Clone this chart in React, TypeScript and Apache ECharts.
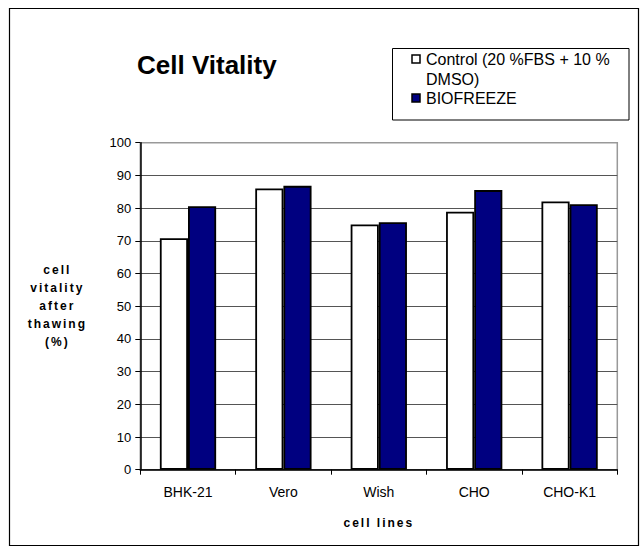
import React, { useEffect, useRef } from "react";
import * as echarts from "echarts";

const categories = ["BHK-21", "Vero", "Wish", "CHO", "CHO-K1"];
const controlValues = [70.8, 86.0, 75.0, 78.9, 82.0];
const biofreezeValues = [80.6, 86.8, 75.7, 85.5, 81.2];
const controlName = "Control (20 %FBS + 10 % DMSO)";
const biofreezeName = "BIOFREEZE";
const titleText = "Cell Vitality";
const yName = "cell\nvitality\nafter\nthawing\n(%)";
const xName = "cell lines";

const FONT = "Liberation Sans";
const NAME_FONT = "Liberation Sans, Arial";

export default function App() {
  const ref = useRef<HTMLDivElement>(null);
  useEffect(() => {
    if (!ref.current) return;
    const chart = echarts.init(ref.current, null, { renderer: "svg" });
    const splitColors: string[] = [];
    for (let i = 0; i <= 10; i++) splitColors.push(i === 10 ? "#999999" : "#555555");
    chart.setOption({
      animation: false,
      backgroundColor: "#ffffff",
      title: {
        text: titleText,
        left: 137,
        top: 52,
        padding: 0,
        textStyle: { fontFamily: FONT, fontSize: 26, fontWeight: "bold", color: "#000" },
      },
      grid: {
        left: 140.3,
        right: 22.7,
        top: 142.7,
        bottom: 82.3,
        show: true,
        borderColor: "#999999",
        borderWidth: 1.5,
        backgroundColor: "#ffffff",
      },
      xAxis: {
        type: "category",
        data: categories,
        name: xName,
        nameLocation: "middle",
        nameGap: 47,
        nameTextStyle: { fontFamily: NAME_FONT, fontSize: 12, fontWeight: "bold", color: "#000" },
        axisLine: { lineStyle: { color: "#000", width: 1.5 } },
        axisTick: { show: true, length: 5, lineStyle: { color: "#000", width: 1 } },
        axisLabel: { fontFamily: FONT, fontSize: 14, color: "#000", margin: 15 },
        splitLine: { show: false },
      },
      yAxis: {
        type: "value",
        min: 0,
        max: 100,
        interval: 10,
        name: yName,
        nameLocation: "middle",
        nameRotate: 0,
        nameGap: 83,
        nameTextStyle: {
          fontFamily: NAME_FONT,
          fontSize: 12,
          fontWeight: "bold",
          color: "#000",
          align: "center",
          verticalAlign: "middle",
          lineHeight: 18,
        },
        axisLine: { show: true, lineStyle: { color: "#000", width: 1.5 } },
        axisTick: { show: true, length: 5, lineStyle: { color: "#000", width: 1 } },
        axisLabel: { fontFamily: FONT, fontSize: 13, color: "#000", margin: 9 },
        splitLine: { show: true, lineStyle: { color: splitColors, width: 1 } },
      },
      series: [
        {
          name: controlName,
          type: "bar",
          data: controlValues,
          barGap: "0%",
          barCategoryGap: "41%",
          itemStyle: { color: "#ffffff", borderColor: "#000", borderWidth: 1.8 },
        },
        {
          name: biofreezeName,
          type: "bar",
          data: biofreezeValues,
          barGap: "0%",
          barCategoryGap: "41%",
          itemStyle: { color: "#000080", borderColor: "#000", borderWidth: 1.8 },
        },
      ],
      graphic: [
        {
          type: "rect",
          shape: { x: 9.5, y: 8.5, width: 629, height: 537 },
          style: { fill: "none", stroke: "#000", lineWidth: 1.2 },
          silent: true,
        },
        {
          type: "rect",
          shape: { x: 392.5, y: 48.5, width: 236.5, height: 71.5 },
          style: { fill: "#fff", stroke: "#000", lineWidth: 1 },
          silent: true,
        },
        {
          type: "rect",
          shape: { x: 412, y: 55, width: 8, height: 8 },
          style: { fill: "#fff", stroke: "#000", lineWidth: 1.5 },
          silent: true,
        },
        {
          type: "text",
          x: 426,
          y: 49,
          style: {
            text: "Control (20 %FBS + 10 %\nDMSO)",
            fontFamily: FONT,
            fontSize: 16,
            lineHeight: 20,
            fill: "#000",
            textAlign: "left",
            textVerticalAlign: "top",
          },
          silent: true,
        },
        {
          type: "rect",
          shape: { x: 412, y: 94, width: 8, height: 8 },
          style: { fill: "#000080", stroke: "#000", lineWidth: 1.5 },
          silent: true,
        },
        {
          type: "text",
          x: 426,
          y: 88,
          style: {
            text: biofreezeName,
            fontFamily: FONT,
            fontSize: 16,
            lineHeight: 20,
            fill: "#000",
            textAlign: "left",
            textVerticalAlign: "top",
          },
          silent: true,
        },
      ],
    });
    return () => chart.dispose();
  }, []);
  return (
    <>
      <style>{`#root svg text[style*="Arial"] { letter-spacing: 2px; }`}</style>
      <div
        ref={ref}
        style={{ position: "absolute", left: 0, top: 0, width: 640, height: 552 }}
      />
    </>
  );
}
